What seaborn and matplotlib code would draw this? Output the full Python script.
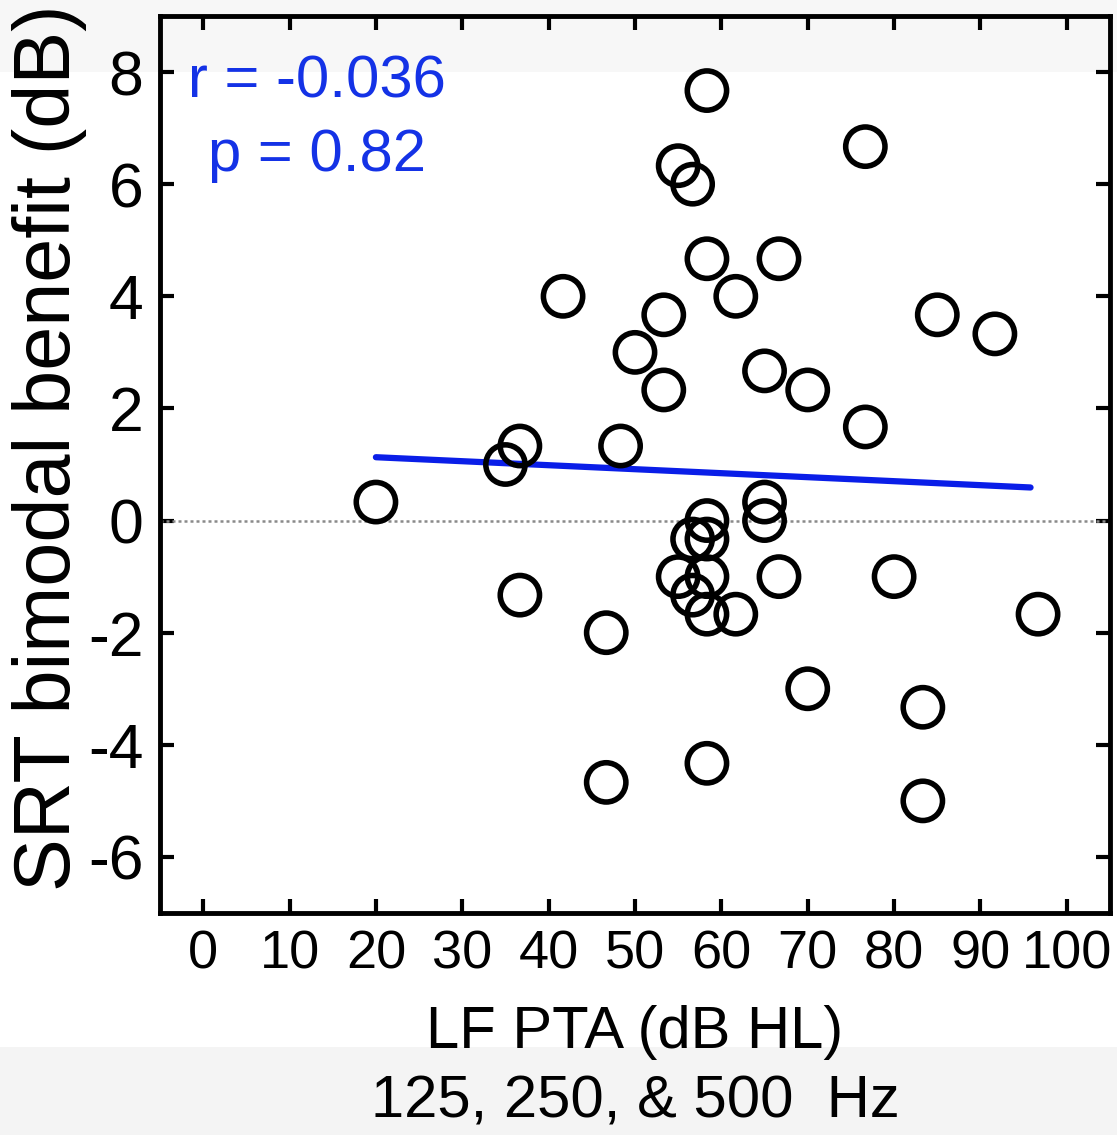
import matplotlib
matplotlib.use("Agg")
import matplotlib.pyplot as plt
import seaborn as sns
import pandas as pd
from matplotlib.patches import Rectangle

# ---- data ----
lf_pta = [20, 35, 36.67, 36.67, 41.67, 46.67, 46.67, 48.33, 50, 53.33,
          53.33, 55, 56.67, 58.33, 58.33, 61.67, 65, 66.67, 70, 76.67,
          76.67, 85, 91.67, 65, 65, 58.33, 56.67, 58.33, 55, 58.33,
          56.67, 58.33, 61.67, 66.67, 80, 70, 83.33, 83.33, 58.33, 96.67]
srt_benefit = [0.33, 1.0, 1.33, -1.33, 4.0, -2.0, -4.67, 1.33, 3.0, 3.67,
               2.33, 6.33, 6.0, 7.67, 4.67, 4.0, 2.67, 4.67, 2.33, 6.67,
               1.67, 3.67, 3.33, 0.33, 0.0, 0.0, -0.33, -0.33, -1.0, -1.0,
               -1.33, -1.67, -1.67, -1.0, -1.0, -3.0, -3.33, -5.0, -4.33, -1.67]
fit_x = [20, 95.8]
fit_y = [1.13, 0.59]
x_ticks = [0, 10, 20, 30, 40, 50, 60, 70, 80, 90, 100]
y_ticks = [-6, -4, -2, 0, 2, 4, 6, 8]
stat_lines = ["r = -0.036", "p = 0.82"]

df = pd.DataFrame({"x": lf_pta, "y": srt_benefit})
fit_df = pd.DataFrame({"x": fit_x, "y": fit_y})

sns.set_theme(style="white")
plt.rcParams["font.family"] = ["Liberation Sans", "DejaVu Sans"]
plt.rcParams.update({"text.color": "black", "axes.labelcolor": "black",
                     "xtick.color": "black", "ytick.color": "black"})

fig = plt.figure(figsize=(11.17, 11.35), dpi=100)
fig.patch.set_facecolor("white")
# light grey screenshot bands (behind everything)
fig.patches.append(Rectangle((0, 1 - 72 / 1135), 1, 72 / 1135, transform=fig.transFigure,
                             facecolor="#f7f7f7", edgecolor="none", zorder=-10))
fig.patches.append(Rectangle((0, 0), 1, 88 / 1135, transform=fig.transFigure,
                             facecolor="#f4f4f4", edgecolor="none", zorder=-10))

ax = fig.add_axes([160 / 1117, 1 - 913 / 1135, 950 / 1117, 897 / 1135])
ax.set_facecolor("none")
ax.set_zorder(2)

ax.axhline(0, color="#8a8a8a", lw=1.8, ls=(0, (1.2, 1.2)), zorder=1)
sns.lineplot(data=fit_df, x="x", y="y", ax=ax, color="#0a1ee8", lw=4.5, zorder=2)
sns.scatterplot(data=df, x="x", y="y", ax=ax, marker="o", s=800,
                facecolor="none", edgecolor="black", linewidth=4.0, zorder=3)

ax.set_xlim(-5, 105)
ax.set_ylim(-7, 9)
ax.set_xticks(x_ticks)
ax.set_yticks(y_ticks)
ax.set_xticklabels([str(t) for t in x_ticks], fontsize=39)
ax.set_yticklabels([str(t) for t in y_ticks], fontsize=45)

for s in ax.spines.values():
    s.set_visible(True)
    s.set_color("black")
    s.set_linewidth(3.5)

ax.tick_params(axis="both", which="major", direction="in", length=10, width=3,
               color="black", top=True, right=True, bottom=True, left=True)
ax.tick_params(axis="x", pad=12)
ax.tick_params(axis="y", pad=12)

ax.set_xlabel("LF PTA (dB HL)\n125, 250, & 500  Hz", fontsize=43, labelpad=18,
              linespacing=1.34)
ax.set_ylabel("")
fig.text(50 / 1117, 1 - 448 / 1135, "SRT bimodal benefit (dB)", rotation=90,
         ha="center", va="center", fontsize=57)

ax.text(13.2, 7.54, stat_lines[0], ha="center", va="baseline", fontsize=43, color="#1432e6")
ax.text(13.2, 6.24, stat_lines[1], ha="center", va="baseline", fontsize=43, color="#1432e6")

fig.savefig("out.png", dpi=100)
